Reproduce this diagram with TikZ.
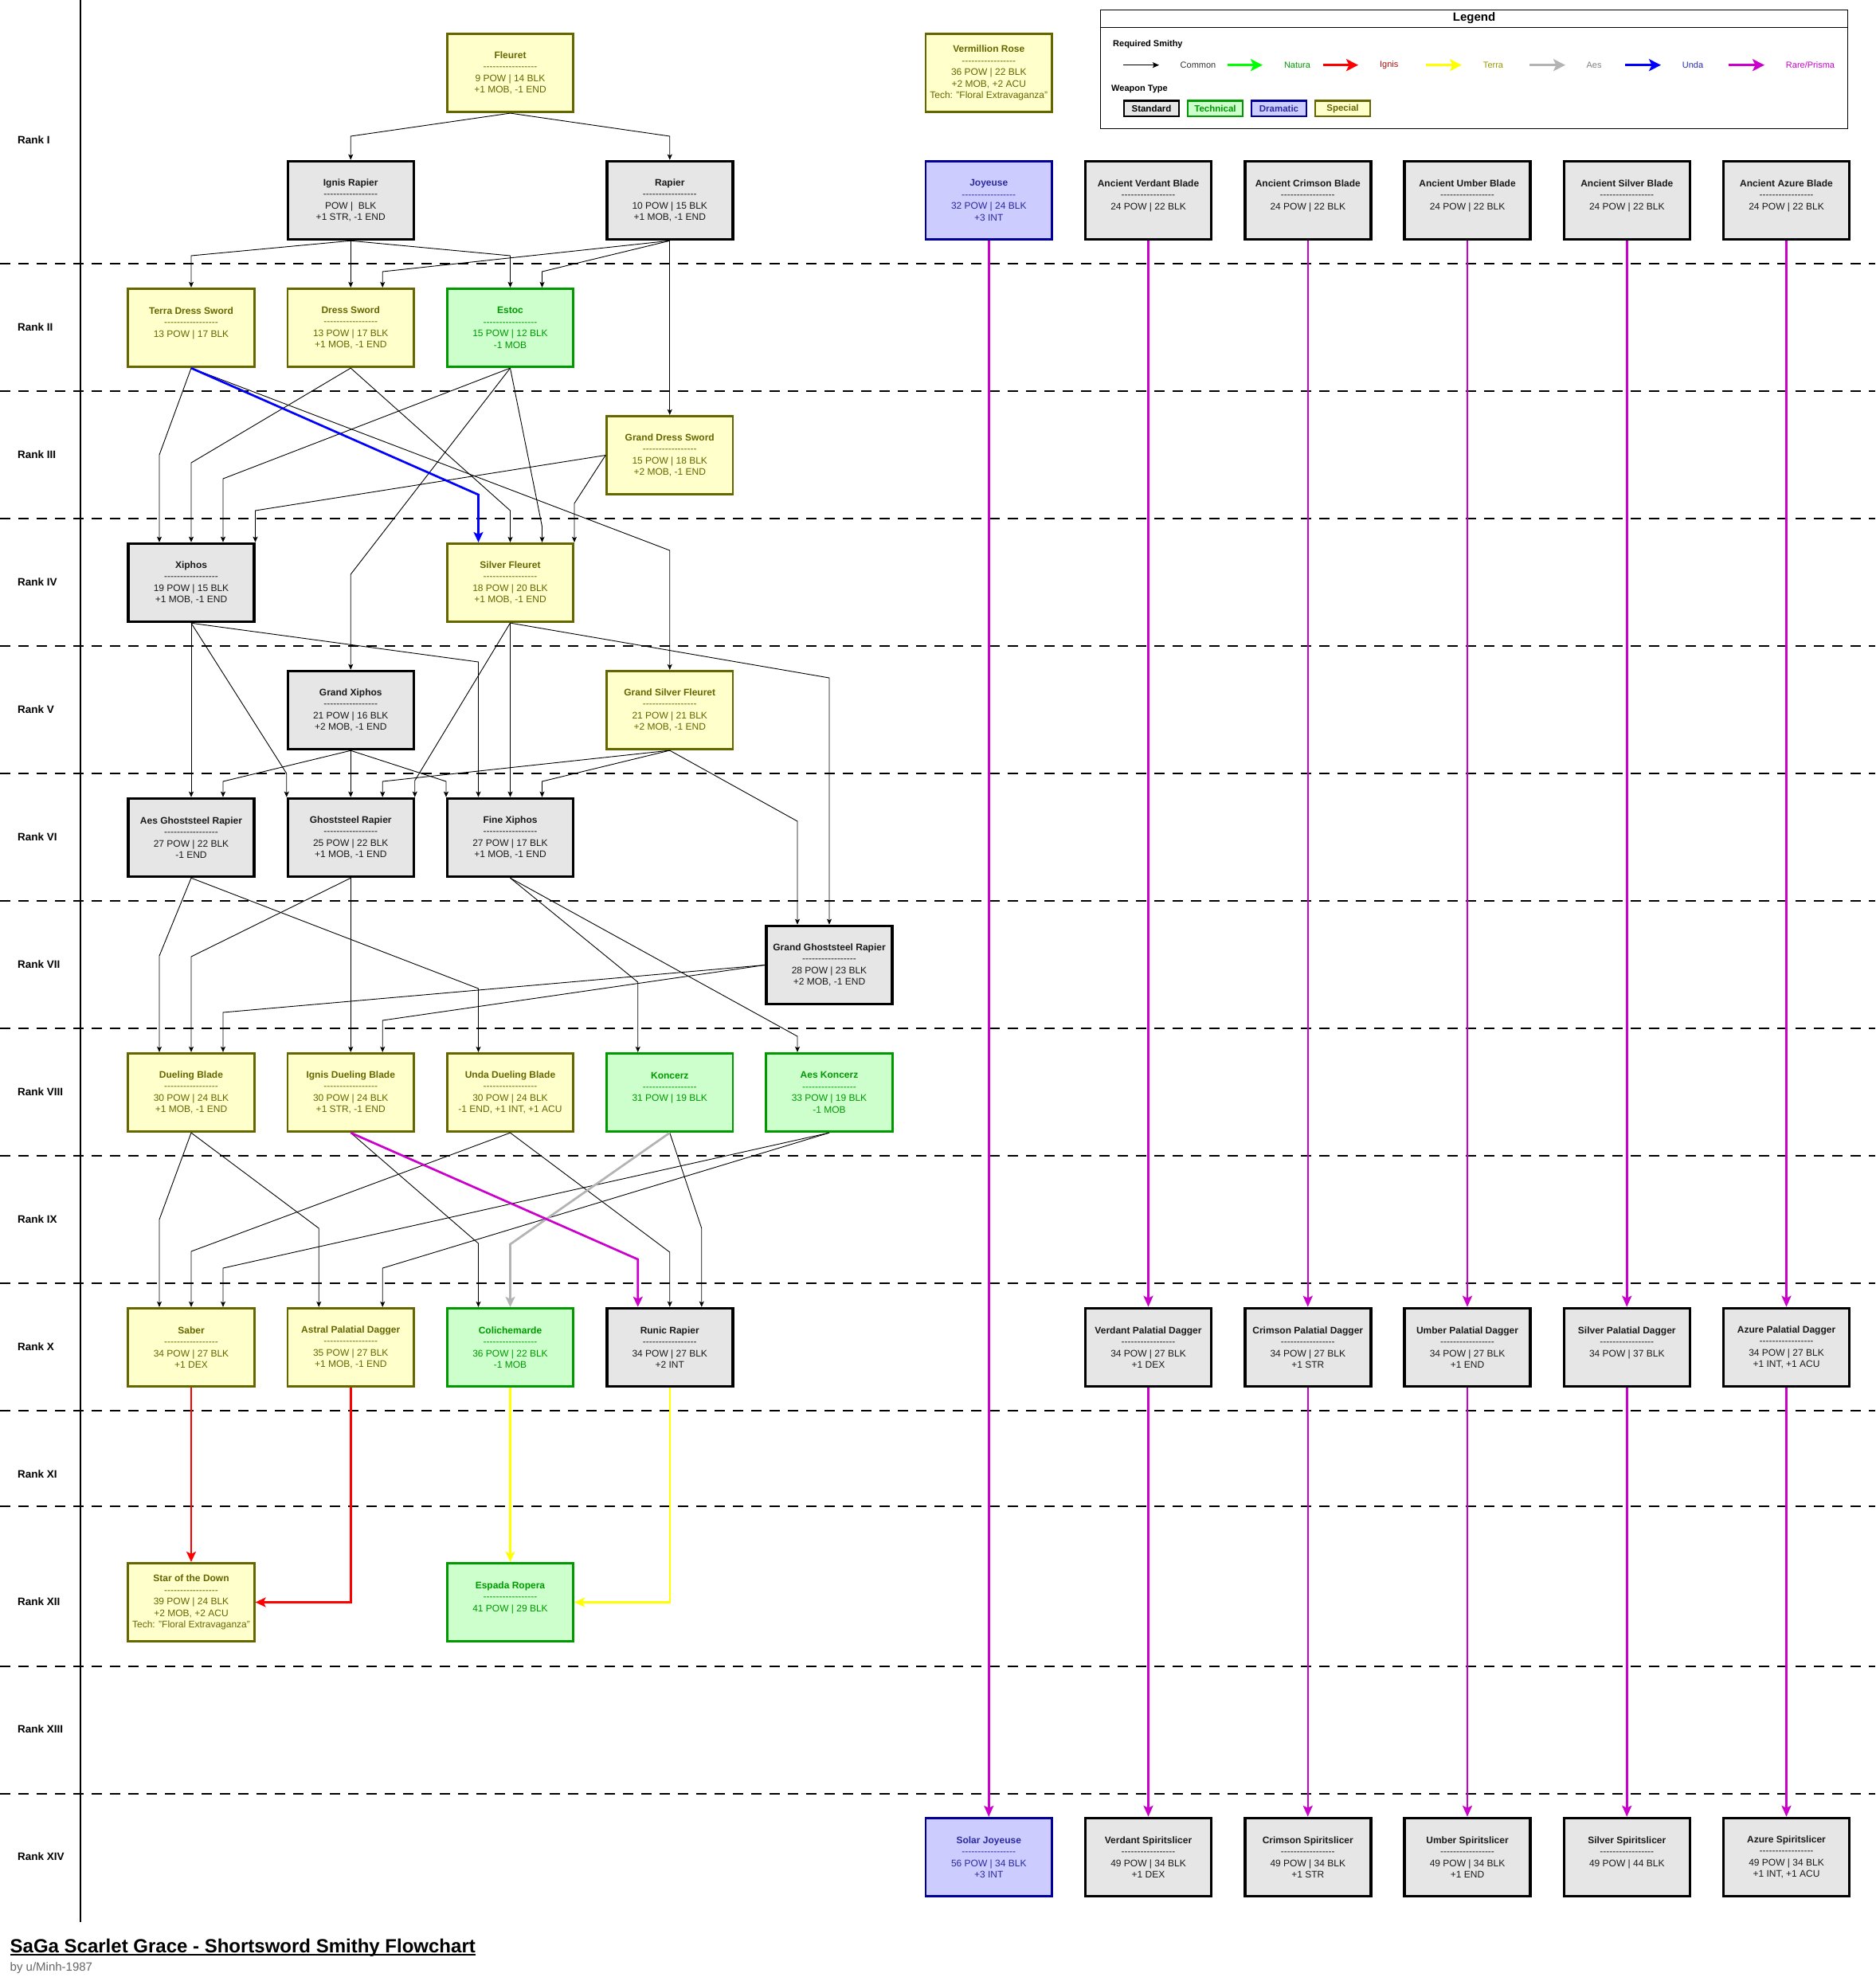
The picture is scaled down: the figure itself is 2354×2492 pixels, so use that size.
\documentclass[tikz,border=0pt]{standalone}
\usepackage{fontspec}
\setmainfont{Liberation Sans}
\usetikzlibrary{arrows.meta}
\definecolor{stdfill}{HTML}{E6E6E6}
\definecolor{stdtext}{HTML}{1A1A1A}
\definecolor{techfill}{HTML}{CCFFCC}
\definecolor{techcol}{HTML}{009900}
\definecolor{dramfill}{HTML}{CCCCFF}
\definecolor{dramcol}{HTML}{000099}
\definecolor{dramtext}{HTML}{2A2A9E}
\definecolor{specfill}{HTML}{FFFFCC}
\definecolor{speccol}{HTML}{666600}
\definecolor{naturacol}{HTML}{00FF00}
\definecolor{igniscol}{HTML}{FF0000}
\definecolor{terracol}{HTML}{FFFF00}
\definecolor{aescol}{HTML}{B3B3B3}
\definecolor{undacol}{HTML}{0000FF}
\definecolor{prismacol}{HTML}{CC00CC}
\definecolor{ignistext}{HTML}{B21010}
\definecolor{terratext}{HTML}{999900}
\definecolor{aestext}{HTML}{808080}
\definecolor{undatext}{HTML}{2B2BB0}
\definecolor{subgrey}{HTML}{666666}
\definecolor{commontext}{HTML}{333333}
\newcommand\hy{-\kern0pt}
\newcommand\dline{\hy\hy\hy\hy\hy\hy\hy\hy\hy\hy\hy\hy\hy\hy\hy\hy\hy}
\newcommand\elb[5]{\path ([xshift=#4pt]#5.north) coordinate (tmpE);\draw[#1] (#2) -- (tmpE |- 0,#3) -- (tmpE);}
\begin{document}
\begin{tikzpicture}[x=1pt,y=-1pt,
 box/.style={rectangle, inner sep=0pt, align=center, font=\fontsize{12}{14.4}\selectfont},
 stdbox/.style={box, fill=stdfill, draw=black, line width=3.5pt, text=stdtext, minimum width=158pt, minimum height=98pt},
 techbox/.style={box, fill=techfill, draw=techcol, line width=2.7pt, text=techcol, minimum width=158.5pt, minimum height=98.5pt},
 drambox/.style={box, fill=dramfill, draw=dramcol, line width=2.7pt, text=dramtext, minimum width=158.5pt, minimum height=98.5pt},
 specbox/.style={box, fill=specfill, draw=speccol, line width=2.7pt, text=speccol, minimum width=158.5pt, minimum height=98.5pt},
 blk/.style={draw=black, line width=0.9pt, -{Stealth[length=7pt,width=6pt,inset=1.5pt]}},
 heavy/.style={line width=2.7pt, -{Stealth[length=13pt,width=12pt,inset=3pt]}},
 unda/.style={heavy, draw=undacol},
 prisma/.style={heavy, draw=prismacol},
 aes/.style={heavy, draw=aescol},
 ignis/.style={heavy, draw=igniscol},
 terra/.style={heavy, draw=terracol, line width=2.2pt},
 vline/.style={draw=prismacol, line width=2.5pt, -{Stealth[length=14pt,width=12pt,inset=3pt]}},
 rankline/.style={draw=black, line width=1.2pt, dash pattern=on 13pt off 10pt},
 ranklabel/.style={anchor=west, inner sep=0pt, font=\fontsize{13.5}{16}\selectfont\bfseries},
 legarrow/.style={line width=3pt, -{Stealth[length=15pt,width=15pt,inset=3.5pt]}},
 leglabel/.style={inner sep=0pt, font=\fontsize{11}{13}\selectfont},
 swatch/.style={minimum width=69pt, minimum height=19.5pt, inner sep=0pt, line width=2.7pt, font=\fontsize{11.5}{13}\selectfont\bfseries}
]
\useasboundingbox (0,0) rectangle (2354,2492);
\fill[white] (0,0) rectangle (2354,2492);
% rank separators
\foreach \yy in {331,491,651,811,971,1131,1291,1451,1611,1771,1891,2092,2252}
  \draw[rankline] (0,\yy) -- (2354,\yy);
\draw[line width=2pt] (101,0) -- (101,2413);
\foreach \r/\yy in {I/176,II/411,III/571,IV/731,V/891,VI/1051,VII/1211,VIII/1371,IX/1531,X/1691,XI/1851,XII/2011,XIII/2171,XIV/2331}
  \node[ranklabel] (rank\r) at (22,\yy) {Rank \r};

% left tree nodes
\node[specbox] (fleuret) at (640.5,91.5) {\textbf{Fleuret}\\\dline\\9 POW | 14 BLK\\+1 MOB, -1 END};
\node[stdbox] (ignisrapier) at (440.25,251.5) {\textbf{Ignis Rapier}\\\dline\\POW |\ \ BLK\\+1 STR, -1 END};
\node[stdbox] (rapier) at (840.75,251.5) {\textbf{Rapier}\\\dline\\10 POW | 15 BLK\\+1 MOB, -1 END};
\node[specbox] (tds) at (240,411.5) {\textbf{Terra Dress Sword}\\\dline\\13 POW | 17 BLK\\\mbox{}};
\node[specbox] (ds) at (440.25,411.5) {\textbf{Dress Sword}\\\dline\\13 POW | 17 BLK\\+1 MOB, -1 END};
\node[techbox] (estoc) at (640.5,411.5) {\textbf{Estoc}\\\dline\\15 POW | 12 BLK\\-1 MOB};
\node[specbox] (gds) at (840.75,571.5) {\textbf{Grand Dress Sword}\\\dline\\15 POW | 18 BLK\\+2 MOB, -1 END};
\node[stdbox] (xiphos) at (240,731.5) {\textbf{Xiphos}\\\dline\\19 POW | 15 BLK\\+1 MOB, -1 END};
\node[specbox] (sfleuret) at (640.5,731.5) {\textbf{Silver Fleuret}\\\dline\\18 POW | 20 BLK\\+1 MOB, -1 END};
\node[stdbox] (gxiphos) at (440.25,891.5) {\textbf{Grand Xiphos}\\\dline\\21 POW | 16 BLK\\+2 MOB, -1 END};
\node[specbox] (gsf) at (840.75,891.5) {\textbf{Grand Silver Fleuret}\\\dline\\21 POW | 21 BLK\\+2 MOB, -1 END};
\node[stdbox] (agr) at (240,1051.5) {\textbf{Aes Ghoststeel Rapier}\\\dline\\27 POW | 22 BLK\\-1 END};
\node[stdbox] (gr) at (440.25,1051.5) {\textbf{Ghoststeel Rapier}\\\dline\\25 POW | 22 BLK\\+1 MOB, -1 END};
\node[stdbox] (fx) at (640.5,1051.5) {\textbf{Fine Xiphos}\\\dline\\27 POW | 17 BLK\\+1 MOB, -1 END};
\node[stdbox] (ggr) at (1041,1211.5) {\textbf{Grand Ghoststeel Rapier}\\\dline\\28 POW | 23 BLK\\+2 MOB, -1 END};
\node[specbox] (db) at (240,1371.5) {\textbf{Dueling Blade}\\\dline\\30 POW | 24 BLK\\+1 MOB, -1 END};
\node[specbox] (idb) at (440.25,1371.5) {\textbf{Ignis Dueling Blade}\\\dline\\30 POW | 24 BLK\\+1 STR, -1 END};
\node[specbox] (udb) at (640.5,1371.5) {\textbf{Unda Dueling Blade}\\\dline\\30 POW | 24 BLK\\-1 END, +1 INT, +1 ACU};
\node[techbox] (koncerz) at (840.75,1371.5) {\textbf{Koncerz}\\\dline\\31 POW | 19 BLK\\\mbox{}};
\node[techbox] (akoncerz) at (1041,1371.5) {\textbf{Aes Koncerz}\\\dline\\33 POW | 19 BLK\\-1 MOB};
\node[specbox] (saber) at (240,1691.5) {\textbf{Saber}\\\dline\\34 POW | 27 BLK\\+1 DEX};
\node[specbox] (apd) at (440.25,1691.5) {\textbf{Astral Palatial Dagger}\\\dline\\35 POW | 27 BLK\\+1 MOB, -1 END};
\node[techbox] (colich) at (640.5,1691.5) {\textbf{Colichemarde}\\\dline\\36 POW | 22 BLK\\-1 MOB};
\node[stdbox] (runic) at (840.75,1691.5) {\textbf{Runic Rapier}\\\dline\\34 POW | 27 BLK\\+2 INT};
\node[specbox] (sotd) at (240,2011.5) {\textbf{Star of the Down}\\\dline\\39 POW | 24 BLK\\+2 MOB, +2 ACU\\Tech: "Floral Extravaganza"};
\node[techbox] (espada) at (640.5,2011.5) {\textbf{Espada Ropera}\\\dline\\41 POW | 29 BLK\\\mbox{}};

% right part nodes
\node[specbox] (vermillion) at (1241.25,91.5) {\textbf{Vermillion Rose}\\\dline\\36 POW | 22 BLK\\+2 MOB, +2 ACU\\Tech: "Floral Extravaganza"};
\node[drambox] (joyeuse) at (1241.25,251.5) {\textbf{Joyeuse}\\\dline\\32 POW | 24 BLK\\+3 INT};
\node[drambox] (solarj) at (1241.25,2331.5) {\textbf{Solar Joyeuse}\\\dline\\56 POW | 34 BLK\\+3 INT};
\node[stdbox] (anc1) at (1441.5,251.5) {\textbf{Ancient Verdant Blade}\\\dline\\24 POW | 22 BLK\\\mbox{}};
\node[stdbox] (anc2) at (1641.75,251.5) {\textbf{Ancient Crimson Blade}\\\dline\\24 POW | 22 BLK\\\mbox{}};
\node[stdbox] (anc3) at (1842,251.5) {\textbf{Ancient Umber Blade}\\\dline\\24 POW | 22 BLK\\\mbox{}};
\node[stdbox] (anc4) at (2042.25,251.5) {\textbf{Ancient Silver Blade}\\\dline\\24 POW | 22 BLK\\\mbox{}};
\node[stdbox] (anc5) at (2242.5,251.5) {\textbf{Ancient Azure Blade}\\\dline\\24 POW | 22 BLK\\\mbox{}};
\node[stdbox] (pal1) at (1441.5,1691.5) {\textbf{Verdant Palatial Dagger}\\\dline\\34 POW | 27 BLK\\+1 DEX};
\node[stdbox] (pal2) at (1641.75,1691.5) {\textbf{Crimson Palatial Dagger}\\\dline\\34 POW | 27 BLK\\+1 STR};
\node[stdbox] (pal3) at (1842,1691.5) {\textbf{Umber Palatial Dagger}\\\dline\\34 POW | 27 BLK\\+1 END};
\node[stdbox] (pal4) at (2042.25,1691.5) {\textbf{Silver Palatial Dagger}\\\dline\\34 POW | 37 BLK\\\mbox{}};
\node[stdbox] (pal5) at (2242.5,1691.5) {\textbf{Azure Palatial Dagger}\\\dline\\34 POW | 27 BLK\\+1 INT, +1 ACU};
\node[stdbox] (spi1) at (1441.5,2331.5) {\textbf{Verdant Spiritslicer}\\\dline\\49 POW | 34 BLK\\+1 DEX};
\node[stdbox] (spi2) at (1641.75,2331.5) {\textbf{Crimson Spiritslicer}\\\dline\\49 POW | 34 BLK\\+1 STR};
\node[stdbox] (spi3) at (1842,2331.5) {\textbf{Umber Spiritslicer}\\\dline\\49 POW | 34 BLK\\+1 END};
\node[stdbox] (spi4) at (2042.25,2331.5) {\textbf{Silver Spiritslicer}\\\dline\\49 POW | 44 BLK\\\mbox{}};
\node[stdbox] (spi5) at (2242.5,2331.5) {\textbf{Azure Spiritslicer}\\\dline\\49 POW | 34 BLK\\+1 INT, +1 ACU};

% connectors
\elb{blk}{fleuret.south}{171}{0}{ignisrapier}
\elb{blk}{fleuret.south}{171}{0}{rapier}
\elb{blk}{ignisrapier.south}{321}{0}{tds}
\draw[blk] (ignisrapier.south) -- (ds.north);
\elb{blk}{ignisrapier.south}{321}{0}{estoc}
\elb{blk}{rapier.south}{341}{40}{ds}
\elb{blk}{rapier.south}{341}{40}{estoc}
\draw[blk] (rapier.south) -- (gds.north);
\elb{blk}{tds.south}{571}{-40}{xiphos}
\elb{blk}{ds.south}{581}{0}{xiphos}
\elb{blk}{estoc.south}{601}{40}{xiphos}
\elb{blk}{gds.west}{641}{80.5}{xiphos}
\elb{blk}{ds.south}{641}{0}{sfleuret}
\elb{blk}{estoc.south}{661}{40}{sfleuret}
\elb{blk}{gds.west}{632}{80.5}{sfleuret}
\elb{blk}{tds.south}{691}{0}{gsf}
\elb{blk}{estoc.south}{721}{0}{gxiphos}
\elb{unda}{tds.south}{621}{-40}{sfleuret}
\draw[blk] (xiphos.south) -- (agr.north);
\elb{blk}{xiphos.south}{971}{-80.5}{gr}
\elb{blk}{xiphos.south}{831}{-40}{fx}
\draw[blk] (sfleuret.south) -- (fx.north);
\elb{blk}{sfleuret.south}{980}{80.5}{gr}
\elb{blk}{sfleuret.south}{851}{0}{ggr}
\elb{blk}{gsf.south}{1031}{-40}{ggr}
\elb{blk}{gxiphos.south}{981}{40}{agr}
\draw[blk] (gxiphos.south) -- (gr.north);
\elb{blk}{gxiphos.south}{981}{-80.5}{fx}
\elb{blk}{gsf.south}{981}{40}{gr}
\elb{blk}{gsf.south}{981}{40}{fx}
\elb{blk}{agr.south}{1200}{-40}{db}
\elb{blk}{agr.south}{1241}{-40}{udb}
\elb{blk}{gr.south}{1201}{0}{db}
\draw[blk] (gr.south) -- (idb.north);
\elb{blk}{fx.south}{1233}{-40}{koncerz}
\elb{blk}{fx.south}{1301}{-40}{akoncerz}
\elb{blk}{ggr.west}{1271}{40}{db}
\elb{blk}{ggr.west}{1281}{40}{idb}
\elb{blk}{db.south}{1531}{-40}{saber}
\elb{blk}{db.south}{1542}{-40}{apd}
\elb{blk}{idb.south}{1561}{-40}{colich}
\elb{blk}{udb.south}{1571}{0}{saber}
\elb{blk}{udb.south}{1572}{0}{runic}
\elb{blk}{koncerz.south}{1542}{40}{runic}
\elb{blk}{akoncerz.south}{1592}{40}{saber}
\elb{blk}{akoncerz.south}{1592}{40}{apd}
\elb{aes}{koncerz.south}{1562}{0}{colich}
\elb{prisma}{idb.south}{1581}{-40}{runic}
\draw[ignis] (saber.south) -- (sotd.north);
\draw[ignis] (apd.south) |- (sotd.east);
\draw[terra] (colich.south) -- (espada.north);
\draw[terra] (runic.south) |- (espada.east);
\draw[vline] (joyeuse.south) -- (solarj.north);
\foreach \i in {1,...,5}{
  \draw[vline] (anc\i.south) -- (pal\i.north);
  \draw[vline] (pal\i.south) -- (spi\i.north);
}

% legend
\node[draw=black, line width=1.3pt, minimum width=937.7pt, minimum height=149pt, inner sep=0pt, anchor=north west] (legend) at (1381,11.7) {};
\draw[line width=1.3pt] (legend.west |- 0,34.3) -- (legend.east |- 0,34.3);
\node[inner sep=0pt, font=\fontsize{15}{18}\selectfont\bfseries] (legtitle) at (1850.5,23) {Legend};
\node[leglabel, anchor=west, font=\fontsize{11}{13}\selectfont\bfseries] (legsmithy) at (1397,56) {Required Smithy};
\node[leglabel, anchor=west, font=\fontsize{11}{13}\selectfont\bfseries] (legtype) at (1395,111.7) {Weapon Type};
\coordinate (lc1) at (1410,81.7); \coordinate (lc2) at (1455,81.7);
\draw[line width=1pt, -{Stealth[length=8pt,width=7pt,inset=1.5pt]}] (lc1) -- (lc2);
\node[leglabel, text=commontext] (lcommon) at (1504,81.7) {Common};
\coordinate (ln1) at (1541,81.7); \coordinate (ln2) at (1585,81.7);
\draw[legarrow, draw=naturacol] (ln1) -- (ln2);
\node[leglabel, text=techcol] (lnatura) at (1628.5,81.7) {Natura};
\coordinate (li1) at (1661,81.7); \coordinate (li2) at (1705,81.7);
\draw[legarrow, draw=igniscol] (li1) -- (li2);
\node[leglabel, text=ignistext] (lignis) at (1743.7,81.7) {Ignis};
\coordinate (lt1) at (1790,81.7); \coordinate (lt2) at (1835,81.7);
\draw[legarrow, draw=terracol] (lt1) -- (lt2);
\node[leglabel, text=terratext] (lterra) at (1874.5,81.7) {Terra};
\coordinate (la1) at (1920,81.7); \coordinate (la2) at (1965,81.7);
\draw[legarrow, draw=aescol] (la1) -- (la2);
\node[leglabel, text=aestext] (laes) at (2001,81.7) {Aes};
\coordinate (lu1) at (2040,81.7); \coordinate (lu2) at (2085,81.7);
\draw[legarrow, draw=undacol] (lu1) -- (lu2);
\node[leglabel, text=undatext] (lunda) at (2125,81.7) {Unda};
\coordinate (lp1) at (2170,81.7); \coordinate (lp2) at (2215,81.7);
\draw[legarrow, draw=prismacol] (lp1) -- (lp2);
\node[leglabel, text=prismacol] (lprisma) at (2272.5,81.7) {Rare/Prisma};
\node[swatch, fill=stdfill, draw=black, text=black] (swstd) at (1445.5,136.2) {Standard};
\node[swatch, fill=techfill, draw=techcol, text=techcol] (swtech) at (1525.5,136.2) {Technical};
\node[swatch, fill=dramfill, draw=dramcol, text=dramtext] (swdram) at (1605.5,136.2) {Dramatic};
\node[swatch, fill=specfill, draw=speccol, text=speccol] (swspec) at (1685.5,136.2) {Special};

% title
\node[anchor=base west, inner sep=0pt, font=\fontsize{24}{28}\selectfont\bfseries] (title) at (12.5,2451) {SaGa Scarlet Grace - Shortsword Smithy Flowchart};
\draw[line width=1.6pt] ([yshift=-3pt]title.base west) -- ([yshift=-3pt]title.base east);
\node[anchor=base west, inner sep=0pt, font=\fontsize{15}{18}\selectfont, text=subgrey] (byline) at (12.5,2474) {by u/Minh-1987};
\end{tikzpicture}
\end{document}
